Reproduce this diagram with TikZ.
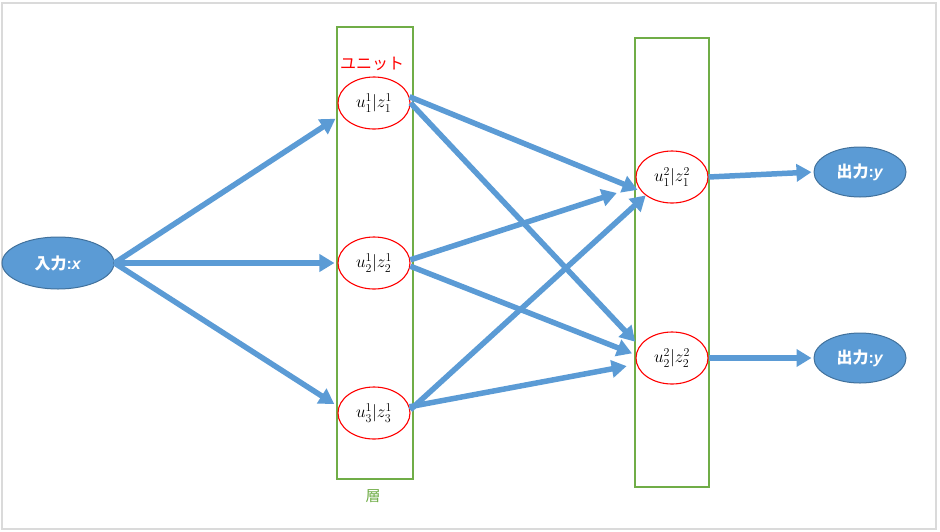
\documentclass[tikz,border=0pt]{standalone}
\usepackage{fontspec}
\newfontfamily\cjk{Noto Sans CJK JP}
\newfontfamily\lab{Liberation Sans}
\usetikzlibrary{arrows.meta,shapes.geometric}
\definecolor{ablue}{HTML}{5B9BD5}
\definecolor{aedge}{HTML}{41719C}
\definecolor{agreen}{HTML}{70AD47}
\definecolor{aframe}{HTML}{DADADA}
\begin{document}
\begin{tikzpicture}[x=1pt,y=-1pt,
 io/.style={ellipse, draw=aedge, fill=ablue, line width=1pt, minimum width=112pt, minimum height=52pt, inner sep=0pt, text=white, font=\fontsize{16}{18}\selectfont\bfseries},
 outio/.style={io, minimum width=92pt, minimum height=50pt},
 unit/.style={ellipse, draw=red, line width=1.1pt, minimum width=72pt, minimum height=52pt, inner sep=0pt, fill=white, font=\fontsize{17}{19}\selectfont},
 layer/.style={draw=agreen, line width=1.3pt, inner sep=0pt},
 conn/.style={draw=ablue, line width=5.5pt, -{Triangle[length=15pt,width=17pt]}}
]
\useasboundingbox (0,0) rectangle (940,531);
\draw[aframe, line width=2pt] (2,3) rectangle (936,529);

\node[layer, minimum width=76pt, minimum height=452pt] (L1) at (375,253) {};
\node[layer, minimum width=74pt, minimum height=449pt] (L2) at (672,262.5) {};

\node[text=red, font=\cjk\fontsize{16}{18}\selectfont] (unitlab) at (372,64) {ユニット};
\node[text=agreen, font=\cjk\fontsize{15}{17}\selectfont] (layerlab) at (373,496) {層};

\node[io] (in) at (58,263) {{\cjk 入力}{\lab :\textit{x}}};
\node[unit] (u11) at (374,103) {$u^1_1|z^1_1$};
\node[unit] (u12) at (374,263) {$u^1_2|z^1_2$};
\node[unit] (u13) at (374,413) {$u^1_3|z^1_3$};
\node[unit] (u21) at (672,177) {$u^2_1|z^2_1$};
\node[unit] (u22) at (672,358) {$u^2_2|z^2_2$};
\node[outio] (o1) at (860,172) {{\cjk 出力}{\lab :\textit{y}}};
\node[outio] (o2) at (860,358) {{\cjk 出力}{\lab :\textit{y}}};

\draw[conn, shorten >=7pt] (in.east) -- (u11.200);
\draw[conn, shorten >=3pt] (in.east) -- (u12.west);
\draw[conn, shorten >=5pt] (in.east) -- (u13.170);

\draw[conn, shorten >=4pt] (u11.10) -- (u21.205);
\draw[conn, shorten >=6pt] (u11.0) -- (u22.160);
\draw[conn, shorten >=22pt] (u12.5) -- (u21.195);
\draw[conn, shorten >=4pt] (u12.355) -- (u22.175);
\draw[conn] (u13.5) -- (u21.215);
\draw[conn, shorten >=10pt] (u13.10) -- (u22.190);

\draw[conn, shorten >=2pt] (u21.east) -- (o1.west);
\draw[conn, shorten >=2pt] (u22.east) -- (o2.west);
\end{tikzpicture}
\end{document}
